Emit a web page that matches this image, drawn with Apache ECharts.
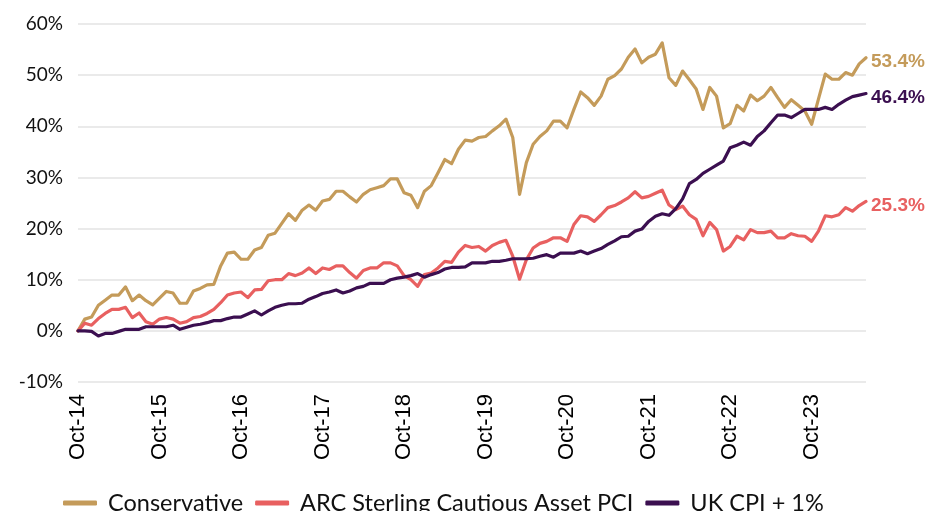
<!DOCTYPE html>
<html>
<head>
<meta charset="utf-8">
<script src="https://cdn.jsdelivr.net/npm/echarts@6/dist/echarts.min.js"></script>
<style>
  html, body { margin: 0; padding: 0; background: #fff; }
  #chart { width: 939px; height: 511px; }
</style>
</head>
<body>
<div id="chart"></div>
<script>
  // monthly series, Oct-14 .. Jun-24 (cumulative % return)
  const conservative = [
    0, 2.3, 2.7, 5.0, 6.0, 7.0, 7.0, 8.6, 5.9, 7.0, 5.9, 5.1,
    6.4, 7.7, 7.4, 5.4, 5.4, 7.8, 8.3, 9.0, 9.1, 12.7, 15.2, 15.4,
    14.0, 14.0, 15.8, 16.3, 18.7, 19.1, 21.0, 22.9, 21.6, 23.6, 24.6, 23.6,
    25.4, 25.7, 27.3, 27.3, 26.2, 25.2, 26.7, 27.6, 28.0, 28.4, 29.7, 29.7,
    27.0, 26.5, 24.1, 27.3, 28.4, 30.9, 33.5, 32.7, 35.5, 37.3, 37.1, 37.8,
    38.0, 39.1, 40.1, 41.4, 37.8, 26.7, 32.9, 36.5, 38.0, 39.1, 41.0, 41.0,
    39.7, 43.3, 46.7, 45.6, 44.1, 45.9, 49.2, 49.9, 51.2, 53.5, 55.1, 52.4,
    53.5, 54.1, 56.3, 49.5, 48.0, 50.8, 49.1, 47.3, 43.3, 47.6, 45.9, 39.7,
    40.5, 44.1, 43.0, 46.1, 45.0, 45.9, 47.6, 45.6, 43.7, 45.2, 44.1, 43.0,
    40.4, 45.3, 50.2, 49.2, 49.2, 50.5, 50.0, 52.2, 53.4
  ];
  const arcCautious = [
    0, 1.5, 1.1, 2.4, 3.4, 4.2, 4.2, 4.6, 2.6, 3.5, 1.8, 1.3,
    2.3, 2.6, 2.3, 1.5, 1.8, 2.6, 2.8, 3.4, 4.2, 5.5, 7.0, 7.4,
    7.6, 6.5, 8.0, 8.1, 9.8, 10.0, 10.0, 11.2, 10.8, 11.3, 12.3, 11.2,
    12.3, 12.0, 12.7, 12.7, 11.4, 10.3, 11.8, 12.3, 12.3, 13.3, 13.3, 12.7,
    10.8, 10.0, 8.7, 11.0, 11.3, 12.3, 13.6, 13.4, 15.4, 16.7, 16.3, 16.5,
    15.6, 16.7, 17.3, 17.7, 14.6, 10.1, 13.9, 16.2, 17.1, 17.5, 18.2, 18.2,
    17.5, 20.8, 22.5, 22.3, 21.4, 22.7, 24.1, 24.5, 25.2, 26.0, 27.2, 26.0,
    26.3, 26.9, 27.5, 24.6, 23.7, 24.4, 22.7, 21.8, 18.6, 21.2, 19.8, 15.6,
    16.5, 18.5, 17.8, 19.8, 19.2, 19.2, 19.5, 18.2, 18.2, 19.0, 18.6, 18.5,
    17.5, 19.5, 22.5, 22.3, 22.7, 24.1, 23.4, 24.5, 25.3
  ];
  const ukCpi = [
    0, 0, -0.1, -1.0, -0.5, -0.5, -0.1, 0.3, 0.3, 0.3, 0.8, 0.8,
    0.8, 0.8, 1.1, 0.3, 0.7, 1.1, 1.3, 1.6, 2.0, 2.0, 2.4, 2.7,
    2.7, 3.3, 3.9, 3.1, 3.9, 4.6, 5.0, 5.3, 5.3, 5.4, 6.2, 6.7,
    7.3, 7.6, 8.0, 7.4, 7.8, 8.4, 8.7, 9.3, 9.3, 9.3, 10.0, 10.3,
    10.5, 10.8, 11.2, 10.5, 11.0, 11.4, 12.1, 12.4, 12.4, 12.5, 13.3, 13.3,
    13.3, 13.6, 13.6, 13.8, 14.1, 14.1, 14.1, 14.2, 14.6, 14.9, 14.4, 15.2,
    15.2, 15.2, 15.6, 15.1, 15.6, 16.1, 16.9, 17.6, 18.4, 18.5, 19.5, 19.9,
    21.4, 22.4, 22.9, 22.6, 23.9, 25.8, 28.8, 29.6, 30.8, 31.6, 32.4, 33.2,
    35.8, 36.3, 36.9, 36.3, 38.0, 39.1, 40.7, 42.2, 42.2, 41.7, 42.5, 43.3,
    43.3, 43.3, 43.7, 43.3, 44.3, 45.1, 45.8, 46.1, 46.4
  ];

  const seriesNames = ['Conservative', 'ARC Sterling Cautious Asset PCI', 'UK CPI + 1%'];
  const seriesColors = ['#C49B5A', '#E86060', '#3B0F50'];

  // month categories starting Oct-14
  const monthNames = ['Jan', 'Feb', 'Mar', 'Apr', 'May', 'Jun', 'Jul', 'Aug', 'Sep', 'Oct', 'Nov', 'Dec'];
  const months = [];
  for (let i = 0; i < conservative.length; i++) {
    const m = (9 + i) % 12;
    const y = 14 + Math.floor((9 + i) / 12);
    months.push(monthNames[m] + '-' + y);
  }

  const chart = echarts.init(document.getElementById('chart'), null, { renderer: 'canvas' });

  const makeSeries = (name, data, color) => ({
    name,
    type: 'line',
    data,
    showSymbol: false,
    symbol: 'none',
    smooth: false,
    lineStyle: { color, width: 3.2, cap: 'round', join: 'round' },
    itemStyle: { color },
    emphasis: { disabled: true },
    endLabel: {
      show: true,
      formatter: (p) => p.value.toFixed(1) + '%',
      color,
      fontSize: 19,
      fontWeight: 'bold',
      fontFamily: 'Liberation Sans',
      distance: 5,
      offset: [0, 4],
    },
  });

  chart.setOption({
    animation: false,
    grid: { left: 78, right: 73, top: 24, bottom: 129, containLabel: false },
    legend: {
      data: seriesNames,
      left: 58,
      top: 486,
      icon: 'roundRect',
      itemWidth: 34,
      itemHeight: 5,
      itemGap: 12,
      textStyle: { fontSize: 23.5, fontFamily: 'Lato', color: '#111', padding: [0, 0, 0, 6] },
    },
    xAxis: {
      type: 'category',
      boundaryGap: false,
      data: months,
      axisLine: { show: false },
      axisTick: { show: false },
      splitLine: { show: false },
      axisLabel: {
        interval: 11,
        rotate: 90,
        margin: 12,
        fontSize: 22,
        fontFamily: 'Liberation Sans',
        color: '#000',
      },
    },
    yAxis: {
      type: 'value',
      min: -10,
      max: 60,
      interval: 10,
      axisLine: { show: false },
      axisTick: { show: false },
      axisLabel: {
        formatter: '{value}%',
        margin: 15,
        fontSize: 19,
        fontFamily: 'Lato',
        color: '#111',
      },
      splitLine: { lineStyle: { color: '#e3e3e3', width: 1.5 } },
    },
    series: [
      makeSeries(seriesNames[0], conservative, seriesColors[0]),
      makeSeries(seriesNames[1], arcCautious, seriesColors[1]),
      makeSeries(seriesNames[2], ukCpi, seriesColors[2]),
    ],
  });
</script>
</body>
</html>
